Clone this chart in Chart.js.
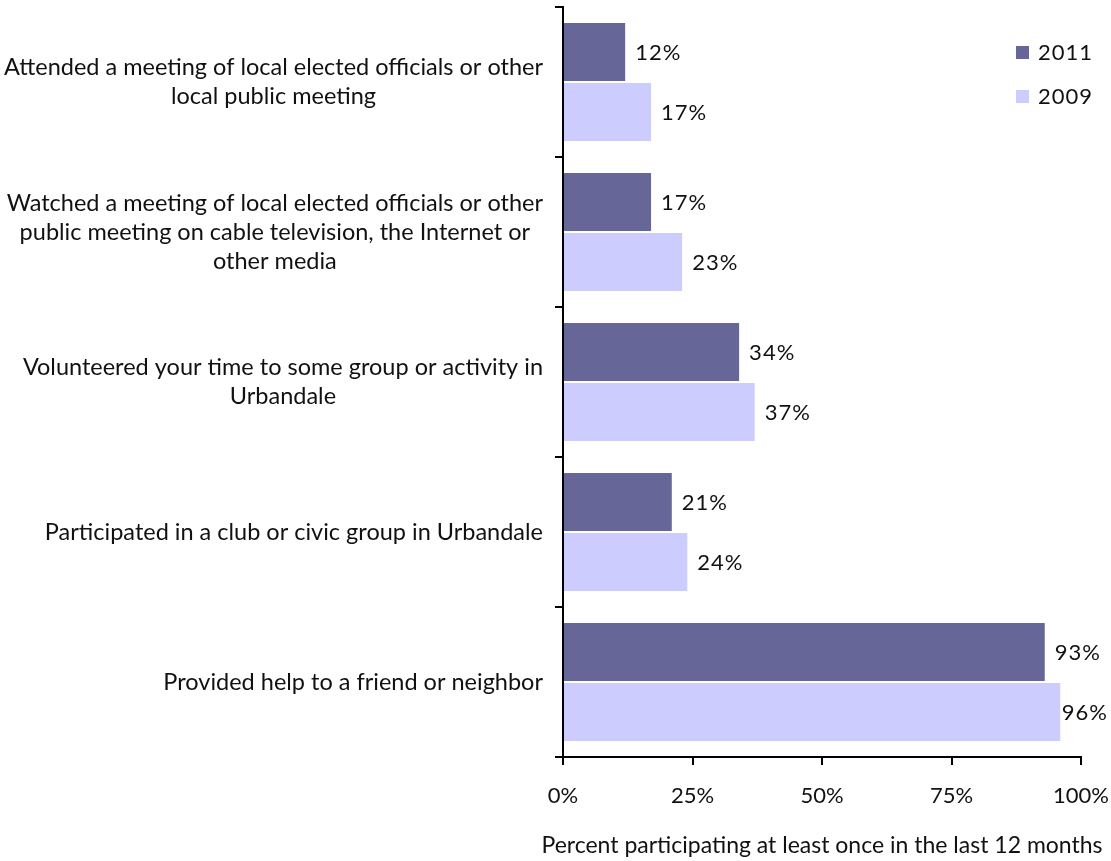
<!DOCTYPE html>
<html>
<head>
<meta charset="utf-8">
<script src="https://cdn.jsdelivr.net/npm/chart.js"></script>
<style>
  html, body { margin: 0; padding: 0; background: #fff; }
  #wrap { width: 1111px; height: 861px; }
</style>
</head>
<body>
<div id="wrap"><canvas id="chart"></canvas></div>
<script>
const categories = [
    ["Attended a meeting of local elected officials or other", "local public meeting"],
    ["Watched a meeting of local elected officials or other", "public meeting on cable television, the Internet or", "other media"],
    ["Volunteered your time to some group or activity in", "Urbandale"],
    ["Participated in a club or civic group in Urbandale"],
    ["Provided help to a friend or neighbor"]
];
const values2011 = [12, 17, 34, 21, 93];
const values2009 = [17, 23, 37, 24, 96];
const xTicks = [0, 25, 50, 75, 100];
const xTitle = 'Percent participating at least once in the last 12 months';

const FONT = "Lato, 'Noto Sans', sans-serif";
const SIZE = 23.5;
const NUM_SIZE = 22;

// value labels at the end of each bar, pulled left when they would run off the canvas
const barLabels = {
    id: 'barLabels',
    afterDatasetsDraw(chart) {
        const ctx = chart.ctx;
        ctx.save();
        ctx.font = NUM_SIZE + "px " + FONT;
        ctx.fillStyle = "#111";
        ctx.textAlign = "left";
        ctx.textBaseline = "middle";
        ctx.letterSpacing = "1px";
        chart.data.datasets.forEach((ds, i) => {
            chart.getDatasetMeta(i).data.forEach((bar, j) => {
                const txt = ds.data[j] + "%";
                const w = ctx.measureText(txt).width;
                const x = Math.min(bar.x + 10, chart.width - 3 - w);
                ctx.fillText(txt, x, bar.y + 1);
            });
        });
        ctx.restore();
    }
};

// category labels: block right-aligned to the axis, lines centred inside the block
// plus the x axis title, which is wider than the plot area
const axisText = {
    id: 'axisText',
    afterDraw(chart) {
        const ctx = chart.ctx;
        const yScale = chart.scales.y;
        const area = chart.chartArea;
        const right = yScale.right - 20;
        const lineH = 29;
        ctx.save();
        ctx.font = SIZE + "px " + FONT;
        ctx.fillStyle = "#111";
        ctx.textAlign = "center";
        ctx.textBaseline = "middle";
        chart.data.labels.forEach((lines, i) => {
            const yc = yScale.getPixelForValue(i);
            const w = Math.max(...lines.map(l => ctx.measureText(l).width));
            const xc = right - w / 2;
            const y0 = yc - (lines.length - 1) * lineH / 2;
            lines.forEach((l, k) => ctx.fillText(l, xc, y0 + k * lineH));
        });
        ctx.font = "23px " + FONT;
        ctx.fillText(xTitle, (area.left + area.right) / 2, area.bottom + 89);
        ctx.restore();
    }
};

// vertical legend in the top right corner
const cornerLegend = {
    id: 'cornerLegend',
    afterDraw(chart) {
        const ctx = chart.ctx;
        ctx.save();
        ctx.font = NUM_SIZE + "px " + FONT;
        ctx.textBaseline = "middle";
        ctx.letterSpacing = "1px";
        chart.data.datasets.forEach((ds, i) => {
            const y = 52 + i * 44;
            ctx.fillStyle = ds.backgroundColor;
            ctx.fillRect(1016, y - 6, 13, 13);
            ctx.fillStyle = "#111";
            ctx.fillText(ds.label, 1038, y + 1);
        });
        ctx.restore();
    }
};

function noPad(scale) {
    scale.paddingLeft = 0;
    scale.paddingRight = 0;
    scale.paddingTop = 0;
    scale.paddingBottom = 0;
}

new Chart(document.getElementById('chart'), {
    type: 'bar',
    data: {
        labels: categories,
        datasets: [
            { label: '2011', data: values2011, backgroundColor: '#666699' },
            { label: '2009', data: values2009, backgroundColor: '#CCCCFF' }
        ]
    },
    options: {
        indexAxis: 'y',
        responsive: true,
        maintainAspectRatio: false,
        animation: false,
        layout: { padding: { top: 7, right: 30, left: 0, bottom: 0 } },
        datasets: { bar: { categoryPercentage: 0.8, barPercentage: 0.967 } },
        plugins: {
            legend: { display: false },
            tooltip: { enabled: false }
        },
        scales: {
            x: {
                min: 0,
                max: 100,
                afterBuildTicks(scale) {
                    scale.ticks = xTicks.map(v => ({ value: v }));
                },
                afterFit(scale) { scale.height = 104; noPad(scale); },
                border: { color: '#000', width: 2 },
                grid: { drawOnChartArea: false, tickLength: 8, color: '#000', lineWidth: 2 },
                ticks: {
                    color: '#111',
                    padding: 18,
                    font: { size: NUM_SIZE, family: FONT },
                    callback: v => v + '%'
                }
            },
            y: {
                afterFit(scale) { scale.width = 563; noPad(scale); },
                border: { color: '#000', width: 2 },
                grid: { drawOnChartArea: false, tickLength: 8, color: '#000', lineWidth: 2, offset: true },
                ticks: {
                    callback: () => '',
                    font: { size: SIZE, family: FONT }
                }
            }
        }
    },
    plugins: [barLabels, axisText, cornerLegend]
});
</script>
</body>
</html>
